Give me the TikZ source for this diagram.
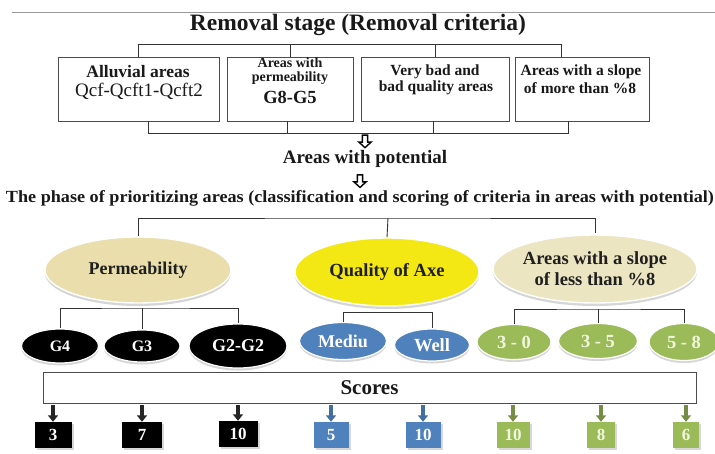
\documentclass[tikz,border=0pt]{standalone}
\usepackage{fontspec}
\usepackage{graphicx}
\setmainfont{Liberation Serif}
\usetikzlibrary{shapes.geometric,shadows,arrows.meta}

\definecolor{permfill}{RGB}{233,222,172}
\definecolor{axefill}{RGB}{243,232,20}
\definecolor{slopefill}{RGB}{236,229,194}
\definecolor{officeblue}{RGB}{79,129,189}
\definecolor{officegreen}{RGB}{155,187,89}
\definecolor{greentext}{RGB}{242,246,222}

\tikzset{
  conn/.style={draw=black!80, line width=0.9pt},
  critbox/.style={draw=black!70, line width=0.8pt, minimum height=64pt, inner sep=0pt},
  boxtext/.style={inner sep=0pt, align=center, text=black!90},
  heading/.style={inner sep=0pt, text=black!90},
  bigell/.style={ellipse, draw=white, line width=1.4pt, inner sep=0pt,
    drop shadow={shadow xshift=0pt,shadow yshift=-3pt,fill=black!35,opacity=0.45},
    font=\bfseries\fontsize{18}{21}\selectfont, text=black!88, align=center},
  classell/.style={ellipse, draw=white, line width=1.2pt, inner sep=0pt,
    drop shadow={shadow xshift=0pt,shadow yshift=-2.5pt,fill=black!35,opacity=0.45},
    font=\bfseries\fontsize{18}{20}\selectfont, text=white},
  scoresq/.style={rectangle, inner sep=0pt, minimum height=26pt, text=white,
    font=\bfseries\fontsize{17}{19}\selectfont,
    drop shadow={shadow xshift=2pt,shadow yshift=-2pt,fill=black!30,opacity=0.5}},
  scorearrow/.style={line width=4pt, draw=#1, shorten <=2pt,
    -{Triangle[length=6.5pt,width=10pt]}},
}

% outlined block arrow pointing down, tip at #1
\newcommand\hollowdown[1]{%
  \draw[fill=white, draw=black, line width=1.4pt, line join=miter]
    ([shift={(-2.6pt,13pt)}]#1) -- ([shift={(2.6pt,13pt)}]#1) -- ([shift={(2.6pt,6pt)}]#1)
    -- ([shift={(6pt,6pt)}]#1) -- ([shift={(0,0.5pt)}]#1) -- ([shift={(-6pt,6pt)}]#1)
    -- ([shift={(-2.6pt,6pt)}]#1) -- cycle;}

\begin{document}
\begin{tikzpicture}[x=1pt,y=1pt]
\fill[white] (0,0) rectangle (715,-453);
\useasboundingbox (0,0) rectangle (715,-453);

% rule across the top
\draw[black!40, line width=0.8pt] (12,-12) -- (715,-12);

% ---------- removal stage ----------
\node[heading, font=\bfseries\fontsize{23.5}{27}\selectfont] (title) at (358,-25)
  {Removal stage (Removal criteria)};

\node[critbox, minimum width=161pt] (b1) at (138.5,-89) {};
\node[critbox, minimum width=126pt] (b2) at (290,-89) {};
\node[critbox, minimum width=148pt] (b3) at (435,-89) {};
\node[critbox, minimum width=134pt] (b4) at (582,-89) {};

\node[boxtext, font=\bfseries\fontsize{17.5}{19}\selectfont] (b1a) at (138,-72) {Alluvial areas};
\node[boxtext, font=\fontsize{19}{21}\selectfont] (b1b) at (139,-91) {Qcf-Qcft1-Qcft2};
\node[boxtext, font=\bfseries\fontsize{14}{16}\selectfont] (b2a) at (290,-63) {Areas with};
\node[boxtext, font=\bfseries\fontsize{14}{16}\selectfont] (b2b) at (290,-78.5) {permeability};
\node[boxtext, font=\bfseries\fontsize{18.5}{20}\selectfont] (b2c) at (290,-97) {G8-G5};
\node[boxtext, font=\bfseries\fontsize{15.5}{17}\selectfont] (b3a) at (435,-72) {Very bad and};
\node[boxtext, font=\bfseries\fontsize{15.5}{17}\selectfont] (b3b) at (436,-88) {bad quality areas};
\node[boxtext, font=\bfseries\fontsize{15.5}{17}\selectfont] (b4a) at (581,-72) {Areas with a slope};
\node[boxtext, font=\bfseries\fontsize{15.5}{17}\selectfont] (b4b) at (580,-88) {of more than \%8};

% brackets above and below the criteria boxes
\draw[conn] (b1.north) -- ++(0,12) -| ([xshift=-21pt]b4.north);
\draw[conn] (b2.north) -- ++(0,12);
\draw[conn] (b3.north) -- ++(0,12);
\draw[conn] ([xshift=9.5pt]b1.south) -- ++(0,-12) -| ([xshift=-14pt]b4.south);
\draw[conn] ([xshift=-3pt]b2.south) -- ++(0,-12);
\draw[conn] ([xshift=-2pt]b3.south) -- ++(0,-12);

\node[heading, font=\bfseries\fontsize{19}{22}\selectfont] (potential) at (365,-159)
  {Areas with potential};
\coordinate (tip1) at ([yshift=2pt]potential.north);
\hollowdown{tip1}

\node[heading] (phase) at (360,-198)
  {\resizebox{708pt}{\height}{\bfseries\fontsize{17}{19}\selectfont The phase of prioritizing areas (classification and scoring of criteria in areas with potential)}};
\coordinate (tip2) at ([yshift=2pt]phase.north);
\hollowdown{tip2}

% ---------- criteria of the prioritizing phase ----------
\node[bigell, fill=permfill, minimum width=186pt, minimum height=66pt] (perm) at (138,-270) {Permeability};
\node[bigell, fill=axefill, minimum width=184pt, minimum height=68pt, font=\bfseries\fontsize{18.5}{21}\selectfont] (axe) at (387,-272) {Quality of Axe};
\node[bigell, fill=slopefill, minimum width=204pt, minimum height=68pt, inner xsep=-12pt,
  font=\bfseries\fontsize{18.5}{21}\selectfont] (slope) at (595,-269) {Areas with a slope\\ of less than \%8};

\coordinate (pbus2) at (388,-218);
\draw[conn] (perm.north) |- (pbus2) -| ([yshift=1pt]slope.north);
\draw[conn] (pbus2) -- (axe.north);

% ---------- classes ----------
\node[classell, fill=black, minimum width=77pt, minimum height=34pt, font=\bfseries\fontsize{16}{18}\selectfont] (g4) at (60,-346) {G4};
\node[classell, fill=black, minimum width=76pt, minimum height=32pt, font=\bfseries\fontsize{16}{18}\selectfont] (g3) at (142,-346) {G3};
\node[classell, fill=black, minimum width=98pt, minimum height=44pt, font=\bfseries\fontsize{18}{20}\selectfont] (g2) at (238,-346) {G2-G2};

\node[classell, fill=officeblue, minimum width=87pt, minimum height=37pt] (mediu) at (343,-341) {Mediu};
\node[classell, fill=officeblue, minimum width=75pt, minimum height=32pt, font=\bfseries\fontsize{18.5}{20}\selectfont] (well) at (432,-345) {Well};

\node[classell, fill=officegreen, text=greentext, minimum width=74pt, minimum height=35pt, font=\bfseries\fontsize{18.5}{20}\selectfont] (e30) at (514,-342) {3 - 0};
\node[classell, fill=officegreen, text=greentext, minimum width=79pt, minimum height=35pt, font=\bfseries\fontsize{18.5}{20}\selectfont] (e35) at (598,-341) {3 - 5};
\node[classell, fill=officegreen, text=greentext, minimum width=70pt, minimum height=37pt, font=\bfseries\fontsize{18.5}{20}\selectfont] (e58) at (684,-342) {5 - 8};

\coordinate (gbus) at (142,-308);
\draw[conn] (g4.north) |- (gbus) -| (g2.north);
\draw[conn] (gbus) -- (g3.north);
\draw[conn] (mediu.north) -- ++(0,9.5) -| (well.north);
\coordinate (sbus) at (598,-309);
\draw[conn] (e30.north) |- (sbus) -| (e58.north);
\draw[conn] (sbus) -- (e35.north);

% ---------- scores ----------
\node[draw=black!70, line width=0.8pt, minimum width=653pt, minimum height=31pt, inner sep=0pt,
  font=\bfseries\fontsize{21}{24}\selectfont, text=black!90] (scores) at (369.5,-387.5) {Scores};

\node[scoresq, fill=black, minimum width=37pt] (s1) at (53,-435) {3};
\node[scoresq, fill=black, minimum width=40pt] (s2) at (142,-435) {7};
\node[scoresq, fill=black, minimum width=39pt] (s3) at (238,-434) {10};
\node[scoresq, fill=officeblue, minimum width=35pt] (s4) at (331,-435) {5};
\node[scoresq, fill=officeblue, minimum width=35pt] (s5) at (423,-435) {10};
\node[scoresq, fill=officegreen, text=greentext, minimum width=33pt] (s6) at (513,-435) {10};
\node[scoresq, fill=officegreen, text=greentext, minimum width=28pt] (s7) at (601,-435) {8};
\node[scoresq, fill=officegreen, text=greentext, minimum width=26pt] (s8) at (686,-435) {6};

\draw[scorearrow=black!85] (scores.south -| s1.north) -- (s1.north);
\draw[scorearrow=black!85] (scores.south -| s2.north) -- (s2.north);
\draw[scorearrow=black!85] (scores.south -| s3.north) -- (s3.north);
\draw[scorearrow=officeblue!85!black] (scores.south -| s4.north) -- (s4.north);
\draw[scorearrow=officeblue!85!black] (scores.south -| s5.north) -- (s5.north);
\draw[scorearrow=officegreen!75!black] (scores.south -| s6.north) -- (s6.north);
\draw[scorearrow=officegreen!75!black] (scores.south -| s7.north) -- (s7.north);
\draw[scorearrow=officegreen!75!black] (scores.south -| s8.north) -- (s8.north);
\end{tikzpicture}
\end{document}
